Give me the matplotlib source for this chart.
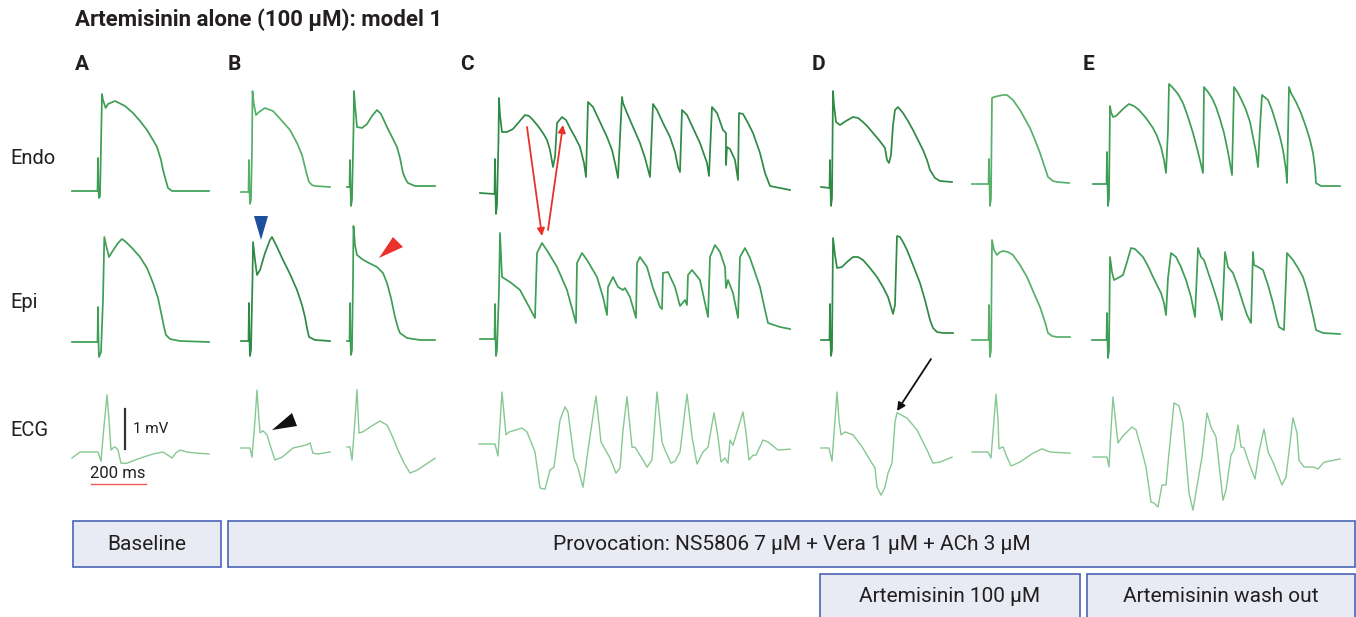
import numpy as np
import matplotlib
matplotlib.use('Agg')
from matplotlib import pyplot as plt
from matplotlib.patches import Rectangle, Polygon

plt.rcParams['font.family'] = ['Roboto', 'DejaVu Sans']

# ---- traces: t = time units from sweep start (55 units = 200 ms),
# ---- AP v in mV above resting level, ECG v in mV above baseline
# A  baseline
a_endo_t = [0, 25.5, 26, 26.5, 27, 28, 29.5, 30, 31, 33.7, 36, 43, 53, 61, 68, 75, 81, 85, 89, 91, 94, 96, 100, 137]
a_endo_v = [0, 0, 33, 0, -7, -5, 71, 97, 91, 83, 87, 90, 85, 78, 70, 61, 51, 44, 31, 21, 10, 3, 0, 0]
a_epi_t = [0, 25.5, 26, 26.5, 27, 29, 31, 32.3, 34, 37, 40, 46, 50, 54, 60, 68, 75, 81, 86, 90, 92, 94, 98, 108, 137]
a_epi_v = [0, 0, 35, 0, -15, -10, 42, 105, 97, 85, 90, 99, 103, 100, 94, 85, 74, 59, 44, 25, 15, 7, 3, 1, 0]
a_ecg_t = [0, 8, 26, 29, 32, 35, 37, 39, 41, 43, 46, 49, 55, 63, 71, 81, 91, 96, 100, 104, 108, 115, 121, 137]
a_ecg_v = [-0.1, 0.05, 0.05, -0.18, 0.7, 1.48, 0.85, 0.1, 0.15, 0.18, 0.1, -0.23, -0.23, -0.15, -0.08, 0,
           0.05, -0.03, -0.1, 0.03, 0.1, 0.05, 0.03, 0]

# B  provocation, two beats
b1_endo_t = [0, 7.5, 8, 8.5, 9, 10, 11, 11.5, 13, 15, 18, 24, 32, 42, 49, 56, 61, 64, 66, 68, 71, 74, 89]
b1_endo_v = [0, 0, 32, 0, -12, -8, 42, 101, 87, 77, 80, 84, 81, 70, 62, 49, 37, 25, 17, 10, 7, 6, 5]
b2_endo_t = [0, 2.5, 3, 3.5, 4, 5, 6.5, 7, 8, 10, 15, 20, 25, 30, 34, 40, 45, 50, 53, 56, 59, 61, 68, 88]
b2_endo_v = [0, 0, 27, 0, -19, -13, 57, 96, 82, 60, 59, 63, 71, 77, 73, 60, 50, 40, 29, 14, 7, 4, 1, 1]
b1_epi_t = [0, 7.5, 8, 8.5, 9, 10, 11.5, 12, 14, 16, 19, 24, 29, 31, 36, 42, 49, 56, 61, 64, 66, 68, 74, 89]
b1_epi_v = [0, 0, 38, 0, -15, -9, 61, 99, 81, 66, 71, 88, 101, 104, 94, 81, 67, 51, 36, 24, 13, 4, 1, 0]
b2_epi_t = [0, 2.5, 3, 3.5, 4, 5, 6, 6.5, 8, 10, 15, 20, 30, 36, 40, 44, 48, 51, 53, 60, 73, 88]
b2_epi_v = [0, 0, 38, 0, -14, -9, 61, 115, 96, 86, 82, 79, 74, 68, 58, 43, 24, 13, 8, 3, 1, 1]
b1_ecg_t = [0, 9, 11, 14, 16, 18, 19, 22, 26, 30, 34, 41, 52, 66, 69, 72, 77, 89]
b1_ecg_v = [0, 0, -0.23, 0.7, 1.45, 0.7, 0.38, 0.43, 0.33, 0, -0.3, -0.23, 0, 0.08, 0.13, -0.13, -0.15, -0.1]
b2_ecg_t = [0, 3, 5, 8, 10, 12, 16, 25, 33, 40, 46, 51, 57, 63, 70, 78, 88]
b2_ecg_v = [0, 0, -0.33, 0.68, 1.43, 0.35, 0.38, 0.53, 0.65, 0.55, 0.23, -0.08, -0.4, -0.65, -0.58, -0.45, -0.28]

# C  provocation, VT run
c_endo_t = [0, 14.5, 15, 15.5, 16, 17, 18.5, 19, 20, 22, 27, 33, 39, 45, 49, 53, 58, 63, 67, 70,
            73, 75, 77, 82, 86, 90, 95, 100, 104, 106, 108, 113, 120, 127, 132, 135, 138, 142, 143, 147,
            153, 160, 165, 170, 173, 177, 183, 190, 195, 198, 200, 202, 207, 213, 220, 227, 229, 232, 237, 243,
            246, 246, 247, 250, 255, 258, 259, 263, 268, 273, 280, 285, 290, 300, 310]
c_endo_v = [0, -1, 34, -1, -21, -12, 53, 95, 78, 61, 61, 64, 71, 78, 77, 73, 67, 60, 53, 43,
            26, 36, 70, 76, 73, 65, 56, 46, 30, 16, 91, 86, 71, 56, 43, 30, 15, 96, 90, 80,
            66, 50, 35, 16, 89, 83, 70, 56, 41, 26, 21, 83, 78, 65, 50, 30, 17, 86, 80, 63,
            60, 28, 46, 44, 33, 13, 80, 79, 70, 60, 40, 20, 7, 5, 3]
c_epi_t = [0, 14.5, 15, 15.5, 16, 17, 19, 20, 22, 30, 40, 47, 55, 57, 62, 68, 77, 87, 96, 97,
           102, 107, 117, 123, 127, 128, 133, 138, 143, 145, 150, 156, 157, 160, 167, 173, 180, 182, 183, 188,
           195, 200, 205, 207, 208, 212, 220, 228, 230, 235, 240, 245, 246, 248, 253, 258, 260, 265, 270, 280,
           285, 288, 300, 310]
c_epi_v = [0, 0, 35, 0, -17, -11, 49, 106, 62, 57, 49, 36, 21, 86, 96, 87, 72, 49, 16, 76,
           86, 79, 62, 42, 24, 52, 62, 52, 49, 51, 42, 21, 76, 82, 72, 51, 32, 30, 66, 67,
           52, 33, 39, 34, 64, 69, 59, 22, 82, 94, 87, 72, 51, 59, 46, 21, 82, 91, 81, 52,
           29, 16, 12, 10]
c_ecg_t = [0, 16, 19, 23, 27, 30, 43, 48, 56, 61, 66, 71, 75, 81, 86, 89, 95, 99, 104, 109,
           117, 122, 131, 137, 141, 144, 148, 153, 156, 164, 168, 173, 178, 183, 186, 192, 196, 201, 208, 213,
           218, 224, 229, 235, 239, 242, 246, 249, 251, 254, 258, 264, 267, 270, 274, 277, 284, 289, 299, 311]
c_ecg_v = [0, 0, -0.3, 1.3, 0.23, 0.3, 0.4, 0.3, -0.2, -1.1, -1.13, -0.65, -0.58, 0.6, 0.93, 0.8, -0.35, -0.6, -1.08, -0.15,
           1.2, 0.05, -0.35, -0.73, -0.6, 0.35, 1.18, -0.08, -0.08, -0.4, -0.58, -0.4, 1.3, 0.05, -0.15, -0.48, -0.43, -0.2, 1.25, 0.18,
           -0.5, -0.2, -0.08, 0.78, 0.18, -0.45, -0.35, -0.48, 0.1, -0.03, 0.3, 0.8, 0.28, -0.4, -0.28, -0.28, 0.1, 0.05, -0.15, -0.13]

# D  artemisinin 100 uM, two sweeps
d1_endo_t = [0, 8.5, 9, 9.5, 10, 11, 12, 13, 15, 19, 25, 32, 37, 42, 47, 52, 58, 64, 66, 68,
             70, 72, 74, 77, 82, 87, 92, 97, 102, 106, 109, 114, 119, 131]
d1_endo_v = [0, -1, 27, -1, -19, -11, 96, 82, 65, 62, 66, 70, 69, 65, 60, 54, 47, 39, 27, 24,
             32, 62, 77, 80, 74, 66, 57, 47, 37, 27, 17, 9, 6, 5]
d2_endo_t = [0, 16.5, 17, 17.5, 18, 19, 20, 22, 26, 31, 35, 41, 48, 58, 63, 68, 73, 76, 81, 85, 97]
d2_endo_v = [0, 0, 25, 0, -22, -14, 86, 87, 88, 89, 89, 84, 74, 56, 44, 31, 16, 7, 3, 2, 1]
d1_epi_t = [0, 8.5, 9, 9.5, 10, 11, 12, 14, 16, 21, 26, 32, 37, 42, 49, 56, 62, 67, 70, 72,
            74, 76, 79, 82, 86, 92, 99, 104, 109, 112, 116, 122, 132]
d1_epi_v = [0, 0, 36, 0, -16, -10, 102, 85, 72, 73, 78, 83, 83, 80, 72, 63, 53, 43, 33, 26,
            35, 104, 103, 98, 90, 75, 57, 40, 20, 12, 8, 7, 7]
d2_epi_t = [0, 16.5, 17, 17.5, 18, 19, 20, 22, 25, 28, 31, 36, 41, 48, 55, 61, 68, 73, 76, 80, 85, 98]
d2_epi_v = [0, 0, 35, 0, -17, -10, 100, 90, 85, 88, 89, 88, 85, 75, 63, 49, 33, 18, 7, 4, 3, 3]
d1_ecg_t = [0, 8, 11, 14, 16, 18, 20, 24, 32, 41, 49, 54, 56, 60, 64, 67, 71, 74, 76, 86, 96, 101, 106, 112, 119, 131]
d1_ecg_v = [0, 0, -0.33, 0.7, 1.4, 0.7, 0.33, 0.4, 0.33, 0.03, -0.3, -0.5, -0.98, -1.18, -0.98, -0.63, -0.38,
            0.65, 0.88, 0.75, 0.45, 0.2, -0.05, -0.38, -0.35, -0.23]
d2_ecg_t = [0, 16, 19, 22, 24, 26, 27, 31, 35, 39, 48, 61, 70, 78, 98]
d2_ecg_v = [0, 0, -0.15, 0.8, 1.45, 0.8, 0.08, 0.13, -0.13, -0.35, -0.25, -0.03, 0.08, 0, -0.03]

# E  artemisinin wash out
e_endo_t = [0, 13.5, 14, 14.5, 15, 16, 17, 18, 20, 23, 26, 31, 36, 41, 46, 53, 60, 64, 68, 71,
            73, 75, 76, 80, 85, 90, 95, 100, 105, 110, 111, 115, 119, 123, 127, 131, 135, 139, 141, 145,
            149, 153, 157, 160, 163, 165, 167, 169, 175, 179, 183, 187, 190, 193, 194, 196, 198, 203, 208, 213,
            217, 220, 222, 223, 228, 247]
e_endo_v = [0, 0, 32, 0, -22, -14, 78, 72, 67, 68, 71, 76, 80, 78, 74, 66, 56, 48, 37, 24,
            11, 54, 100, 96, 90, 81, 67, 51, 32, 11, 97, 92, 86, 77, 65, 51, 32, 9, 97, 91,
            83, 74, 62, 47, 32, 17, 57, 89, 84, 74, 61, 47, 34, 14, 1, 97, 91, 82, 71, 57,
            44, 31, 16, 1, -2, -2]
e_epi_t = [0, 14.5, 15, 15.5, 16, 17, 18, 20, 22, 26, 31, 35, 39, 43, 51, 56, 61, 65, 69, 72,
           74, 76, 79, 84, 89, 94, 99, 103, 106, 109, 112, 116, 121, 126, 130, 133, 136, 141, 146, 151,
           155, 159, 161, 162, 166, 171, 176, 181, 185, 187, 192, 195, 201, 206, 211, 215, 219, 222, 224, 231, 248]
e_epi_v = [0, 0, 27, 0, -18, -10, 83, 68, 60, 62, 65, 78, 92, 91, 83, 74, 63, 55, 47, 37,
           25, 62, 87, 83, 73, 60, 43, 23, 92, 83, 80, 68, 53, 37, 20, 88, 73, 67, 53, 37,
           25, 17, 88, 75, 73, 70, 55, 37, 20, 13, 10, 87, 80, 72, 63, 50, 33, 20, 10, 7, 6]
e_ecg_t = [0, 14, 16, 18, 20, 23, 25, 30, 39, 43, 48, 53, 58, 61, 65, 69, 73, 76, 81, 86,
           90, 96, 100, 105, 109, 114, 118, 123, 130, 133, 138, 141, 145, 148, 151, 156, 162, 166, 171, 175,
           180, 189, 193, 200, 204, 206, 211, 220, 225, 231, 247]
e_ecg_v = [0, 0, -0.25, 0.68, 1.5, 0.8, 0.35, 0.53, 0.75, 0.68, 0.23, -0.25, -1.13, -1.15, -1.25, -0.7, -0.7, 0.1, 1.35, 1.28,
           0.85, -0.9, -1.33, -0.58, 0, 1.1, 0.75, 0.5, -1.08, -0.83, 0.05, 0.18, 0.8, 0.25, 0.23, -0.15, -0.55, 0.13, 0.7, 0.13,
           -0.13, -0.7, -0.5, 0.98, 0.6, -0.08, -0.25, -0.25, -0.3, -0.13, -0.05]

row_labels = ['Endo', 'Epi', 'ECG']
panel_labels = ['A', 'B', 'C', 'D', 'E']
box_labels = ['Baseline', 'Provocation: NS5806 7 \u03bcM + Vera 1 \u03bcM + ACh 3 \u03bcM',
              'Artemisinin 100 \u03bcM', 'Artemisinin wash out']
title = 'Artemisinin alone (100 \u03bcM): model 1'

# ---- layout (figure pixels) ----
W, H = 1356, 617
AP_PX = 1.0      # px per mV for APs
ECG_PX = 40.0    # px per mV for ECG
MS_PX = 55 / 200.0

# (t, v, x0, y0, px per mV, colour)
dark, mid, light, ecg_c = '#2e8a45', '#3f9e55', '#56b06a', '#86c892'
traces = [
    (a_endo_t, a_endo_v, 72, 191, AP_PX, mid), (a_epi_t, a_epi_v, 72, 342, AP_PX, mid),
    (a_ecg_t, a_ecg_v, 72, 454, ECG_PX, ecg_c),
    (b1_endo_t, b1_endo_v, 241, 192, AP_PX, light), (b2_endo_t, b2_endo_v, 347, 187, AP_PX, mid),
    (b1_epi_t, b1_epi_v, 241, 341, AP_PX, dark), (b2_epi_t, b2_epi_v, 347, 341, AP_PX, mid),
    (b1_ecg_t, b1_ecg_v, 241, 448, ECG_PX, ecg_c), (b2_ecg_t, b2_ecg_v, 347, 447, ECG_PX, ecg_c),
    (c_endo_t, c_endo_v, 480, 193, AP_PX, dark), (c_epi_t, c_epi_v, 480, 339, AP_PX, mid),
    (c_ecg_t, c_ecg_v, 479, 444, ECG_PX, ecg_c),
    (d1_endo_t, d1_endo_v, 821, 187, AP_PX, dark), (d2_endo_t, d2_endo_v, 972, 184, AP_PX, light),
    (d1_epi_t, d1_epi_v, 821, 340, AP_PX, dark), (d2_epi_t, d2_epi_v, 972, 340, AP_PX, light),
    (d1_ecg_t, d1_ecg_v, 821, 448, ECG_PX, ecg_c), (d2_ecg_t, d2_ecg_v, 972, 452, ECG_PX, ecg_c),
    (e_endo_t, e_endo_v, 1093, 184, AP_PX, mid), (e_epi_t, e_epi_v, 1092, 340, AP_PX, mid),
    (e_ecg_t, e_ecg_v, 1093, 457, ECG_PX, ecg_c),
]

fig = plt.figure(figsize=(W / 100, H / 100), dpi=100)
ax = fig.add_axes([0, 0, 1, 1])
ax.set_xlim(0, W)
ax.set_ylim(H, 0)
ax.axis('off')

for t, v, x0, y0, sc, col in traces:
    lw = 1.0 if sc == ECG_PX else 1.25
    ax.plot(x0 + np.asarray(t), y0 - np.asarray(v) * sc, color=col, lw=lw,
            solid_joinstyle='round')

txt = '#231f20'
ax.text(75, 20, title, fontsize=16, fontweight='semibold', color=txt, va='center', ha='left')
for lab, x in zip(panel_labels, [75, 228, 460, 812, 1083]):
    ax.text(x, 64, lab, fontsize=15, fontweight='bold', color=txt, va='center', ha='left')
for lab, y in zip(row_labels, [158, 303, 430]):
    ax.text(10, y, lab, fontsize=14.5, color=txt, va='center', ha='left')

# scale bars
ax.plot([125, 125], [449, 449 - 1 * ECG_PX], color='#333333', lw=1.6)
ax.text(133, 429, '1 mV', fontsize=11, color=txt, va='center', ha='left')
ax.plot([91, 91 + 200 * MS_PX], [484, 484], color='#f05a5a', lw=1.0)
ax.text(90, 473, '200 ms', fontsize=12, color=txt, va='center', ha='left')

# markers
ax.add_patch(Polygon([(254, 216), (268, 216), (261, 240)], closed=True, color='#1d4f9c', lw=0))
ax.add_patch(Polygon([(379, 258), (393, 237), (403, 247)], closed=True, color='#e8322b', lw=0))
ax.add_patch(Polygon([(272, 430), (292, 413), (297, 426)], closed=True, color='#111111', lw=0))
red_arrow = dict(arrowstyle='-|>', color='#e8322b', lw=1.3, mutation_scale=11, shrinkA=0, shrinkB=0)
ax.annotate('', xy=(542, 236), xytext=(527, 127), arrowprops=red_arrow)
ax.annotate('', xy=(563, 125), xytext=(548, 230), arrowprops=red_arrow)
ax.annotate('', xy=(897, 411), xytext=(931, 359),
            arrowprops=dict(arrowstyle='-|>', color='#111111', lw=1.3, mutation_scale=12,
                            shrinkA=0, shrinkB=0))

# condition boxes
boxes = [(73, 521, 148, 46), (228, 521, 1127, 46), (820, 574, 260, 46), (1087, 574, 268, 46)]
for (x, y, w, h), lab in zip(boxes, box_labels):
    ax.add_patch(Rectangle((x, y), w, h, facecolor='#e8eaf4', edgecolor='#4a63b5', lw=1.2))
    ax.text(x + w / 2, min(y + h / 2, 597), lab, fontsize=15, color=txt, ha='center', va='center')

fig.savefig('out.png', dpi=100)
